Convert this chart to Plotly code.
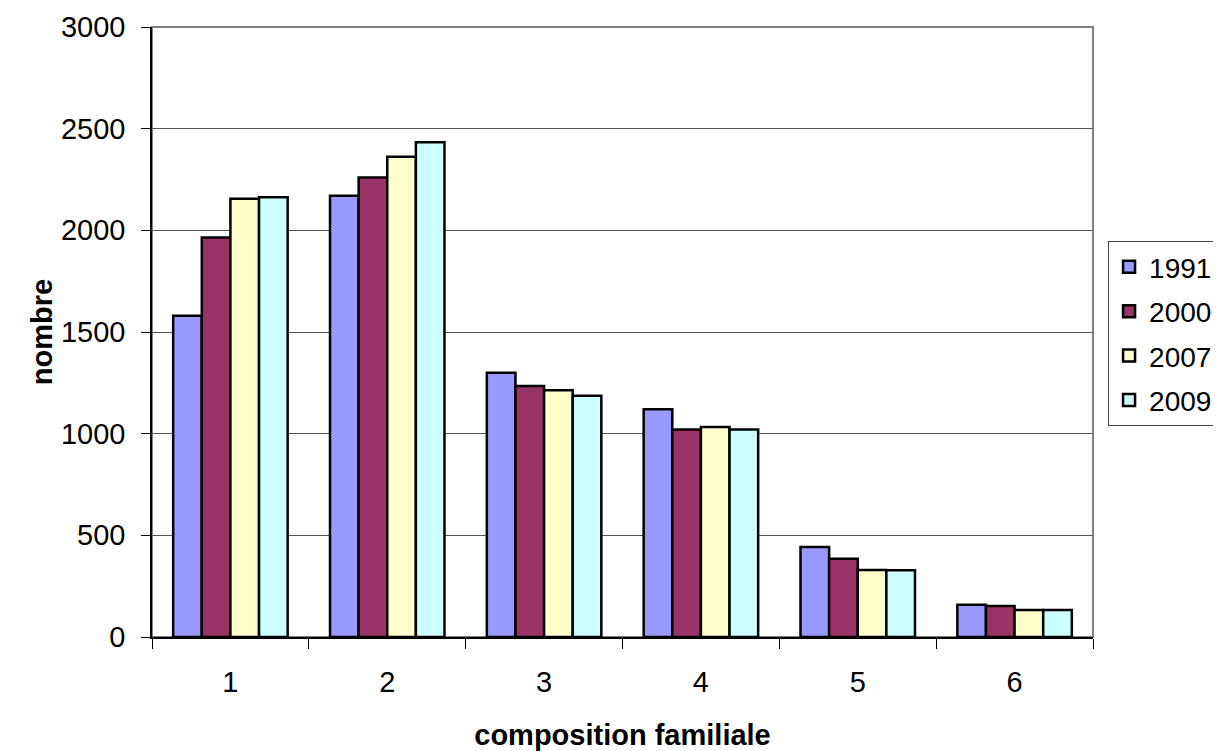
import plotly.graph_objects as go

categories = ["1", "2", "3", "4", "5", "6"]
v1991 = [1580, 2170, 1300, 1120, 443, 159]
v2000 = [1965, 2260, 1234, 1021, 385, 152]
v2007 = [2155, 2362, 1213, 1033, 329, 133]
v2009 = [2163, 2433, 1187, 1020, 328, 133]
series_names = ["1991", "2000", "2007", "2009"]
colors = ["#9999FF", "#993366", "#FFFFCC", "#CCFFFF"]

FONT = "Liberation Sans, Arial, sans-serif"

fig = go.Figure()
for name, vals, col in zip(series_names, [v1991, v2000, v2007, v2009], colors):
    fig.add_trace(go.Bar(
        x=categories, y=vals, name=name, legendgroup=name,
        marker=dict(color=col, line=dict(color="black", width=2.5)),
    ))

fig.update_layout(
    width=1213, height=743,
    margin=dict(l=144, r=128, t=19, b=114, autoexpand=False),
    paper_bgcolor="white", plot_bgcolor="white",
    barmode="group", bargap=0.27, bargroupgap=0,
    font=dict(family=FONT, size=29, color="black"),
    showlegend=True,
    legend=dict(
        x=1.016, y=0.649, xanchor="left", yanchor="top",
        bgcolor="white", bordercolor="#444", borderwidth=1,
        font=dict(size=28), tracegroupgap=5,
    ),
    xaxis=dict(
        type="category", tickson="boundaries", ticks="outside", ticklen=10,
        tickcolor="black", showline=True, linecolor="black", linewidth=1.5,
        showgrid=False, ticklabelstandoff=18, automargin=False,
        title=dict(text="<b>composition familiale</b>", font=dict(size=29), standoff=29),
    ),
    yaxis=dict(
        range=[0, 3000], dtick=500, ticks="outside", ticklen=9, tickcolor="black",
        showline=True, linecolor="black", linewidth=1.5, ticklabelstandoff=10,
        showgrid=True, gridcolor="#555555", gridwidth=1, zeroline=False, automargin=False,
        title=dict(text="<b>nombre</b>", font=dict(size=29), standoff=0),
    ),
    shapes=[dict(type="rect", xref="paper", yref="paper", x0=0, y0=0, x1=1, y1=1,
                 line=dict(color="#808080", width=2), layer="below")],
)

fig.write_html("out.html")
